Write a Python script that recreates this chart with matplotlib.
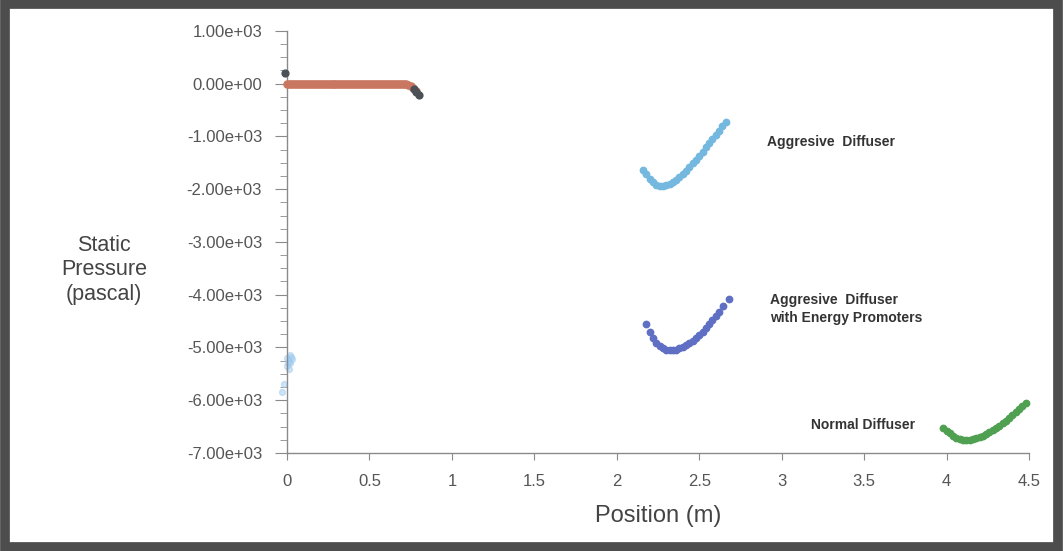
import numpy as np
import matplotlib
matplotlib.use("Agg")
import matplotlib.pyplot as plt
from matplotlib.patches import Rectangle
from matplotlib.ticker import MultipleLocator, FuncFormatter

# --- data (position m, static pressure Pa) ---
inlet_x = [0.000, 0.012, 0.024, 0.036, 0.048, 0.060, 0.072, 0.084, 0.096, 0.108,
           0.120, 0.132, 0.144, 0.156, 0.168, 0.180, 0.192, 0.204, 0.216, 0.228,
           0.240, 0.252, 0.264, 0.276, 0.288, 0.300, 0.312, 0.324, 0.336, 0.348,
           0.360, 0.372, 0.384, 0.396, 0.408, 0.420, 0.432, 0.444, 0.456, 0.468,
           0.480, 0.492, 0.504, 0.516, 0.528, 0.540, 0.552, 0.564, 0.576, 0.588,
           0.600, 0.612, 0.624, 0.636, 0.648, 0.660, 0.672, 0.684, 0.696, 0.708,
           0.720, 0.735, 0.750, 0.765, 0.780]
inlet_y = [-10] * 61 + [-20, -50, -90, -140]

dark_x = [-0.01, 0.770, 0.785, 0.800]
dark_y = [210, -100, -150, -210]

faint_x = [0.000, 0.010, 0.020, 0.030, 0.000, 0.015, 0.025, 0.005, 0.020, -0.020, -0.030]
faint_y = [-5200, -5250, -5300, -5220, -5350, -5400, -5180, -5300, -5150, -5700, -5850]

aggr_x = [2.16, 2.18, 2.20, 2.22, 2.24, 2.26, 2.28, 2.30, 2.32, 2.34, 2.36, 2.38, 2.40,
          2.42, 2.44, 2.46, 2.48, 2.50, 2.52, 2.54, 2.56, 2.58, 2.60, 2.62, 2.64, 2.66]
aggr_y = [-1640, -1720, -1800, -1870, -1920, -1950, -1950, -1930, -1900, -1860, -1820,
          -1770, -1710, -1650, -1580, -1510, -1440, -1370, -1290, -1210, -1130, -1050,
          -970, -890, -810, -730]

prom_x = [2.18, 2.20, 2.22, 2.24, 2.26, 2.28, 2.30, 2.32, 2.34, 2.36, 2.38, 2.40, 2.42,
          2.44, 2.46, 2.48, 2.50, 2.52, 2.54, 2.56, 2.58, 2.60, 2.62, 2.645, 2.68]
prom_y = [-4550, -4700, -4830, -4920, -4980, -5020, -5040, -5050, -5050, -5040, -5020,
          -4990, -4960, -4920, -4870, -4820, -4760, -4700, -4640, -4560, -4480, -4400,
          -4330, -4210, -4080]

norm_x = [3.98, 4.00, 4.02, 4.04, 4.06, 4.08, 4.10, 4.12, 4.14, 4.16, 4.18, 4.20, 4.22,
          4.24, 4.26, 4.28, 4.30, 4.32, 4.34, 4.36, 4.38, 4.40, 4.42, 4.44, 4.46, 4.48]
norm_y = [-6530, -6580, -6630, -6680, -6720, -6740, -6755, -6760, -6755, -6740, -6720,
          -6700, -6670, -6640, -6610, -6570, -6530, -6490, -6440, -6390, -6340, -6280,
          -6220, -6160, -6110, -6060]

plt.rcParams['font.family'] = ['Liberation Sans', 'DejaVu Sans']

fig = plt.figure(figsize=(10.63, 5.51), dpi=100)
ax = fig.add_axes([0.270, 0.178, 0.698, 0.766])

ax.scatter(inlet_x, inlet_y, s=26, color='#c97761', clip_on=False, zorder=3)
ax.scatter(dark_x, dark_y, s=24, color='#4b5156', clip_on=False, zorder=4)
ax.scatter(faint_x, faint_y, s=18, color='#9fcbf0', alpha=0.5, clip_on=False, zorder=2)
ax.scatter(aggr_x, aggr_y, s=21, color='#74b8df', zorder=3)
ax.scatter(prom_x, prom_y, s=21, color='#5f6fc4', zorder=3)
ax.scatter(norm_x, norm_y, s=21, color='#4fa050', clip_on=False, zorder=3)

ax.set_xlim(0, 4.5)
ax.set_ylim(-7000, 1000)
ax.yaxis.set_major_locator(MultipleLocator(1000))
ax.yaxis.set_minor_locator(MultipleLocator(250))
ax.xaxis.set_major_locator(MultipleLocator(0.5))
ax.yaxis.set_major_formatter(FuncFormatter(lambda v, p: '%.2e' % v))
ax.xaxis.set_major_formatter(FuncFormatter(lambda v, p: '%g' % v))

for s in ['top', 'right']:
    ax.spines[s].set_visible(False)
for s in ['left', 'bottom']:
    ax.spines[s].set_color('#8a8a8a')
    ax.spines[s].set_linewidth(1.0)

ax.tick_params(axis='y', which='major', length=9, color='#8a8a8a', labelsize=12,
               labelcolor='#555555', pad=9)
ax.tick_params(axis='y', which='minor', length=5, color='#8a8a8a')
ax.tick_params(axis='x', which='major', length=5, color='#8a8a8a', labelsize=12,
               labelcolor='#555555', pad=10)

ax.set_xlabel('Position (m)', fontsize=17, color='#444444', labelpad=12)
fig.text(0.098, 0.510, 'Static\nPressure\n(pascal)', fontsize=15.5, color='#444444',
         ha='center', va='center', linespacing=1.2)

ax.text(2.91, -1110, 'Aggresive  Diffuser', fontsize=10, fontweight='bold', color='#333333',
        va='center')
ax.text(2.93, -4270, 'Aggresive  Diffuser\nwith Energy Promoters', fontsize=10,
        fontweight='bold', color='#333333', va='center', ha='left', linespacing=1.35)
ax.text(3.18, -6470, 'Normal Diffuser', fontsize=10, fontweight='bold', color='#333333',
        va='center')

# frame around the whole picture
fig.patches.append(Rectangle((0.0045, 0.008), 0.991, 0.984, transform=fig.transFigure,
                             fill=False, edgecolor='#4d4d4d', linewidth=7))

fig.savefig('out.png', dpi=100)
